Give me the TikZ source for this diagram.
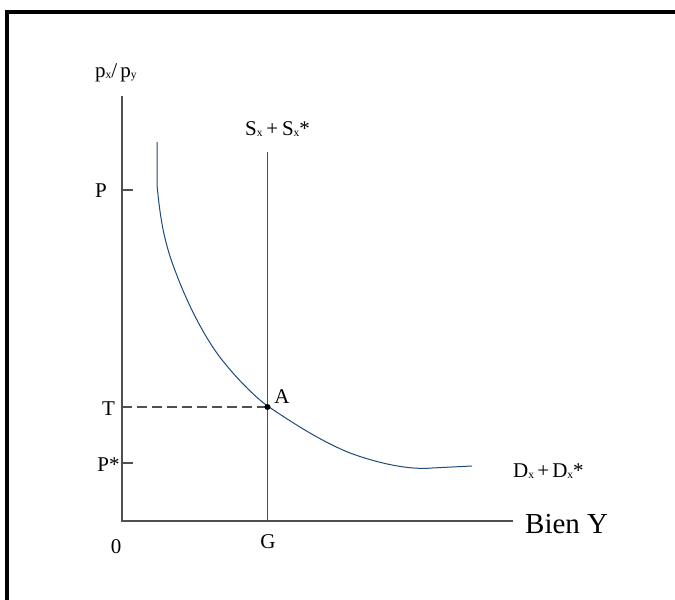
\documentclass[tikz,border=0pt]{standalone}
\usepackage{fontspec}
\setmainfont{Liberation Serif}
\definecolor{axisgray}{HTML}{505050}
\definecolor{curveblue}{HTML}{1F4A7A}
\newcommand{\subx}[1]{\raisebox{-0.15ex}{\fontsize{11.5}{12}\selectfont #1}}
\tikzset{
  axis/.style={draw=axisgray, line width=1.3pt},
  lbl/.style={font=\fontsize{21}{24}\selectfont, inner sep=0pt, anchor=base},
  lblw/.style={font=\fontsize{21}{24}\selectfont, inner sep=0pt, anchor=base west},
  big/.style={font=\fontsize{29}{32}\selectfont, inner sep=0pt, anchor=base west},
  demand/.style={draw=curveblue, line width=1pt},
  guide/.style={draw=axisgray, line width=1.2pt, dash pattern=on 10pt off 5pt}
}
\begin{document}
\begin{tikzpicture}[x=1pt,y=-1pt]
\useasboundingbox (0,0) rectangle (675,600);
\fill[white] (0,0) rectangle (675,600);
% frame
\draw[line width=3.8pt] (6.8,600) -- (6.8,12) -- (675,12);
% axes
\coordinate (O) at (122,521);
\coordinate (ytop) at (122,96);
\coordinate (xend) at (513,521);
\draw[axis] (ytop) -- (O) -- (xend);
% ticks
\coordinate (Pt) at (122,190);
\coordinate (Ptr) at (133,190);
\coordinate (Pst) at (122,463);
\coordinate (Pstr) at (133,463);
\draw[axis] (Pt) -- (Ptr);
\draw[axis] (Pst) -- (Pstr);
% supply line
\coordinate (Stop) at (267.5,152);
\coordinate (Sbot) at (267.5,521);
\draw[axis] (Stop) -- (Sbot);
% point A
\coordinate (Apt) at (267.5,407);
\coordinate (Tax) at (122,407);
\draw[guide] (Tax) -- (Apt);
% demand curve
\draw[demand] (157,142) -- (157,185) .. controls (160,215) and (163,240) .. (176,273)
  .. controls (185,297) and (200,330) .. (219,356)
  .. controls (235,377) and (255,397) .. (267.5,406)
  .. controls (290,421) and (320,441) .. (350,453)
  .. controls (380,464) and (410,470) .. (432,468)
  -- (472,466);
\fill (Apt) circle (3pt);
% labels
\node[lblw] (pxpy) at (95,77) {p\subx{x}/\hspace{0.15em}p\subx{y}};
\node[lblw] (sxl) at (245,135) {S\subx{x}\hspace{0.18em}+\hspace{0.18em}S\subx{x}*};
\node[lbl] (Pl) at (101,197) {P};
\node[lbl] (Tl) at (108.5,415) {T};
\node[lbl] (Psl) at (108.5,471) {P*};
\node[lbl] (Al) at (282,403) {A};
\node[lblw] (Dl) at (513,477) {D\subx{x}\hspace{0.15em}+\hspace{0.15em}D\subx{x}*};
\node[big] (Bl) at (525,533) {Bien Y};
\node[lbl] (zl) at (116,553) {0};
\node[lbl] (Gl) at (268,548) {G};
\end{tikzpicture}
\end{document}
